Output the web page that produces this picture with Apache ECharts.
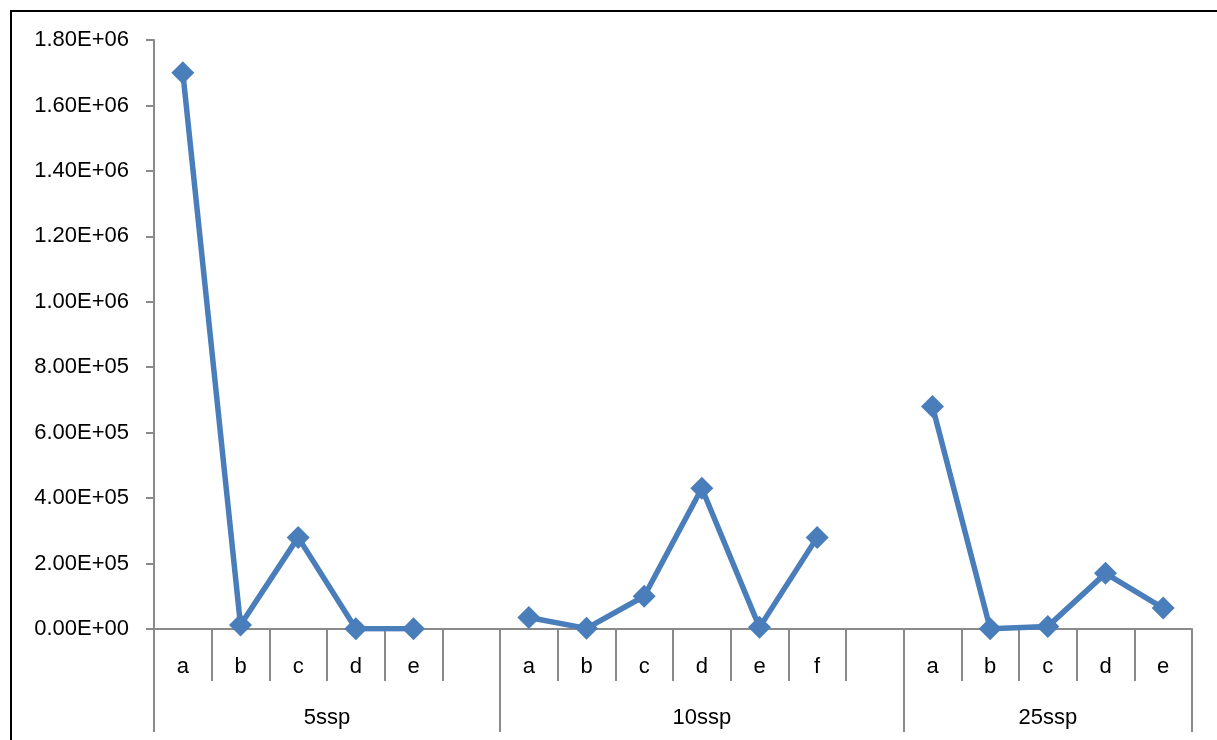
<!DOCTYPE html>
<html>
<head>
<meta charset="utf-8">
<script src="https://cdn.jsdelivr.net/npm/echarts@6/dist/echarts.min.js"></script>
<style>
html,body{margin:0;padding:0;background:#fff;overflow:hidden;}
#frame{position:absolute;left:10px;top:10px;width:1300px;height:800px;border:2px solid #000;box-sizing:border-box;}
#chart{position:absolute;left:0;top:0;width:1217px;height:740px;}
</style>
</head>
<body>
<div id="frame"></div>
<div id="chart"></div>
<script>
// Groups and their sub-categories ('' = empty slot)
const groupNames = ['5ssp', '10ssp', '25ssp'];
const groupCats = [
  ['a', 'b', 'c', 'd', 'e', ''],
  ['a', 'b', 'c', 'd', 'e', 'f', ''],
  ['a', 'b', 'c', 'd', 'e']
];
const groupValues = [
  [1.70e6, 1.2e4, 2.8e5, 1.0e3, 1.0e3, null],
  [3.5e4, 2.0e3, 1.0e5, 4.3e5, 5.0e3, 2.8e5, null],
  [6.8e5, 1.0e3, 8.0e3, 1.7e5, 6.4e4]
];
const yMin = 0, yMax = 1.8e6, yStep = 2e5;

const categories = [].concat(...groupCats);
const values = [].concat(...groupValues);

// group boundaries and centers (in category units)
const bounds = [0];
groupCats.forEach(g => bounds.push(bounds[bounds.length - 1] + g.length));
const centers = groupNames.map((n, i) => (bounds[i] + bounds[i + 1]) / 2);

function sci(v) {
  if (v === 0) return '0.00E+00';
  const parts = v.toExponential(2).split('e');
  const n = parseInt(parts[1], 10);
  return parts[0] + 'E' + (n < 0 ? '-' : '+') + String(Math.abs(n)).padStart(2, '0');
}

const axisColor = '#8a8a8a';
const fontFamily = 'Liberation Sans, Arial, sans-serif';
const chart = echarts.init(document.getElementById('chart'));
chart.setOption({
  animation: false,
  grid: { left: 154, right: 25, top: 40, bottom: 111, containLabel: false },
  xAxis: [
    {
      type: 'category',
      data: categories,
      position: 'bottom',
      boundaryGap: true,
      axisLine: { show: true, lineStyle: { color: axisColor, width: 2 } },
      axisTick: { show: true, interval: 0, length: 52, lineStyle: { color: axisColor, width: 2 } },
      axisLabel: { interval: 0, margin: 27, color: '#000', fontSize: 22, fontFamily: fontFamily },
      splitLine: { show: false }
    },
    {
      type: 'value',
      position: 'bottom',
      min: 0,
      max: categories.length,
      axisLine: { show: false },
      axisTick: { show: true, customValues: bounds, length: 103, lineStyle: { color: axisColor, width: 2 } },
      axisLabel: {
        show: true,
        customValues: centers,
        margin: 78,
        color: '#000',
        fontSize: 22,
        fontFamily: fontFamily,
        formatter: function (v) {
          const i = centers.indexOf(v);
          return i >= 0 ? groupNames[i] : '';
        }
      },
      splitLine: { show: false }
    }
  ],
  yAxis: {
    type: 'value',
    min: yMin,
    max: yMax,
    interval: yStep,
    axisLine: { show: true, lineStyle: { color: axisColor, width: 2 } },
    axisTick: { show: true, length: 8, lineStyle: { color: axisColor, width: 2 } },
    axisLabel: { margin: 25, color: '#000', fontSize: 22, fontFamily: fontFamily, formatter: sci },
    splitLine: { show: false }
  },
  series: [{
    type: 'line',
    xAxisIndex: 0,
    data: values,
    connectNulls: false,
    symbol: 'diamond',
    symbolSize: 23,
    showAllSymbol: true,
    lineStyle: { color: '#4A7EBB', width: 5.5 },
    itemStyle: { color: '#4A7EBB', borderWidth: 0 }
  }]
});
</script>
</body>
</html>
